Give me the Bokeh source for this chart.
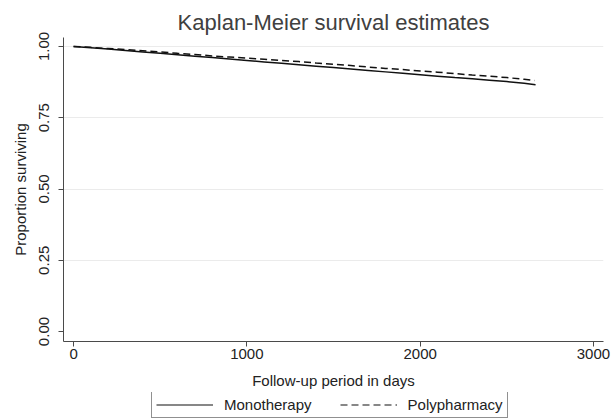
from bokeh.plotting import figure
from bokeh.layouts import column
from bokeh.models import (Range1d, FixedTicker, PrintfTickFormatter, Legend, LegendItem)
from bokeh.embed import file_html
from bokeh.resources import INLINE

# ---- data ----
mono_days = [0, 100, 200, 300, 400, 500, 600, 700, 800, 900, 1000, 1100, 1200, 1300,
             1400, 1500, 1600, 1700, 1800, 1900, 2000, 2100, 2200, 2300, 2400, 2500,
             2600, 2666]
mono_surv = [1.000, 0.996, 0.991, 0.986, 0.981, 0.976, 0.971, 0.966, 0.961, 0.956,
             0.951, 0.946, 0.941, 0.936, 0.931, 0.926, 0.921, 0.916, 0.911, 0.906,
             0.901, 0.896, 0.891, 0.887, 0.882, 0.877, 0.871, 0.866]
poly_days = [0, 100, 200, 300, 400, 500, 600, 700, 800, 900, 1000, 1100, 1200, 1300,
             1400, 1500, 1600, 1700, 1800, 1900, 2000, 2100, 2200, 2300, 2400, 2500,
             2600, 2660]
poly_surv = [1.000, 0.997, 0.993, 0.989, 0.985, 0.981, 0.976, 0.972, 0.967, 0.963,
             0.959, 0.955, 0.951, 0.947, 0.942, 0.938, 0.933, 0.928, 0.923, 0.919,
             0.914, 0.910, 0.905, 0.900, 0.896, 0.891, 0.885, 0.881]

x_ticks = [0, 1000, 2000, 3000]
y_ticks = [0.0, 0.25, 0.5, 0.75, 1.0]
grid_ticks = [0.25, 0.5, 0.75, 1.0]

title_text = "Kaplan-Meier survival estimates"
x_label = "Follow-up period in days"
y_label = "Proportion surviving"
series_names = ["Monotherapy", "Polypharmacy"]

FONT = "Liberation Sans"
TXT = "#222222"
AX = "#4a4a4a"
LINE = "#111111"
DASH = "7 4"

p = figure(width=616, height=392, output_backend="svg", toolbar_location=None,
           x_range=Range1d(-58, 3058), y_range=Range1d(-0.035, 1.0316),
           min_border_left=63, min_border_right=13, min_border_top=37,
           min_border_bottom=51, title=title_text)

p.title.align = "center"
p.title.text_font = FONT
p.title.text_font_size = "22px"
p.title.text_font_style = "normal"
p.title.text_color = "#404040"
p.title.standoff = 5

p.outline_line_color = None
p.background_fill_color = "white"
p.border_fill_color = "white"

for ax in (p.xaxis[0], p.yaxis[0]):
    ax.axis_line_color = AX
    ax.major_tick_line_color = AX
    ax.major_tick_in = 0
    ax.major_tick_out = 5
    ax.minor_tick_line_color = None
    ax.major_label_text_font = FONT
    ax.major_label_text_font_size = "15px"
    ax.major_label_text_color = TXT
    ax.axis_label_text_font = FONT
    ax.axis_label_text_font_size = "15px"
    ax.axis_label_text_font_style = "normal"
    ax.axis_label_text_color = TXT

p.xaxis.ticker = FixedTicker(ticks=x_ticks)
p.xaxis.axis_label = x_label
p.xaxis.major_label_standoff = 2
p.xaxis.axis_label_standoff = 10

p.yaxis.ticker = FixedTicker(ticks=y_ticks)
p.yaxis.formatter = PrintfTickFormatter(format="%.2f")
p.yaxis.major_label_orientation = "vertical"
p.yaxis.axis_label = y_label
p.yaxis.major_label_standoff = 9
p.yaxis.axis_label_standoff = 8

p.xgrid.visible = False
p.ygrid.ticker = FixedTicker(ticks=grid_ticks)
p.ygrid.grid_line_color = "#ebebeb"
p.ygrid.grid_line_width = 1

p.line(mono_days, mono_surv, line_color=LINE, line_width=1.5)
p.line(poly_days, poly_surv, line_color=LINE, line_width=1.5, line_dash=DASH)

# ---- legend strip below the chart (same series, kept outside its view range) ----
lg = figure(width=616, height=28, output_backend="svg", toolbar_location=None,
            x_axis_type=None, y_axis_type=None,
            x_range=Range1d(-58, 3058), y_range=Range1d(2, 3),
            min_border_left=63, min_border_right=13, min_border_top=0, min_border_bottom=0)
lg.outline_line_color = None
lg.background_fill_color = "white"
lg.border_fill_color = "white"
lg.xgrid.visible = False
lg.ygrid.visible = False
k1 = lg.line(mono_days, mono_surv, line_color=LINE, line_width=1.2)
k2 = lg.line(poly_days, poly_surv, line_color=LINE, line_width=1.2, line_dash=DASH)

legend = Legend(items=[LegendItem(label=series_names[0], renderers=[k1]),
                       LegendItem(label=series_names[1], renderers=[k2])],
                orientation="horizontal", location=(88, 2),
                border_line_color="#222222", border_line_width=1,
                padding=4, spacing=28, glyph_width=57, glyph_height=15, label_height=15,
                label_standoff=11, label_text_font=FONT, label_text_font_size="15px",
                label_text_color=TXT, margin=0)
lg.add_layout(legend, "center")

layout = column(p, lg, spacing=0)
open("out.html", "w").write(file_html(layout, INLINE))
